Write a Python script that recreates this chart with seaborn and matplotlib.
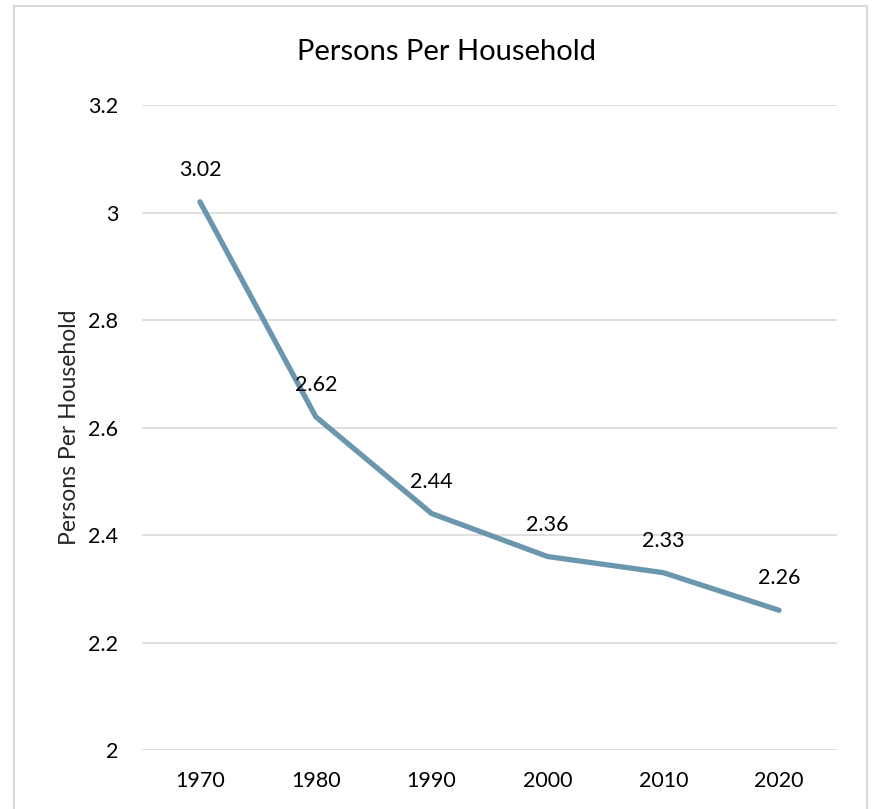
import matplotlib
matplotlib.use("Agg")
import matplotlib.pyplot as plt
import seaborn as sns
import pandas as pd
from matplotlib.patches import Rectangle

# data
years = ["1970", "1980", "1990", "2000", "2010", "2020"]
persons = [3.02, 2.62, 2.44, 2.36, 2.33, 2.26]
y_ticks = [2, 2.2, 2.4, 2.6, 2.8, 3, 3.2]
y_tick_labels = ["2", "2.2", "2.4", "2.6", "2.8", "3", "3.2"]

df = pd.DataFrame({"Year": years, "Persons": persons})

sns.set_style("white")
plt.rcParams["font.family"] = ["Lato", "DejaVu Sans"]

fig = plt.figure(figsize=(8.73, 8.09), dpi=100)
ax = fig.add_axes([0.1627, 0.0729, 0.7961, 0.7973])

line_color = "#6A96AE"
sns.lineplot(data=df, x="Year", y="Persons", ax=ax, color=line_color,
             linewidth=3.8, sort=False, solid_capstyle="round")

# value labels above each point
for i, v in enumerate(persons):
    ax.annotate(f"{v:.2f}", (i, v), xytext=(0, 23), textcoords="offset points",
                ha="center", va="center", fontsize=15.5, color="#000000")

ax.set_xlim(-0.5, len(years) - 0.5)
ax.set_ylim(2, 3.2)
ax.set_yticks(y_ticks)
ax.set_yticklabels(y_tick_labels)
ax.grid(axis="y", color="#D9D9D9", linewidth=1.2)
ax.grid(axis="x", visible=False)
for s in ax.spines.values():
    s.set_visible(False)
ax.tick_params(axis="both", length=0, labelsize=15.5, colors="#000000")
ax.tick_params(axis="y", pad=17)
ax.tick_params(axis="x", pad=15)
ax.set_xlabel("")
ax.set_ylabel("Persons Per Household", fontsize=16.5, labelpad=6)

fig.text(0.511, 0.936, "Persons Per Household", ha="center", va="center",
         fontsize=21, color="#000000")

# chart border like an Excel chart area
fig.patches.append(Rectangle((14 / 873, -0.01), (867 - 14) / 873, 1 - 6 / 809 + 0.01,
                             transform=fig.transFigure, fill=False,
                             edgecolor="#D9D9D9", linewidth=1.5))

fig.savefig("out.png", dpi=100)
